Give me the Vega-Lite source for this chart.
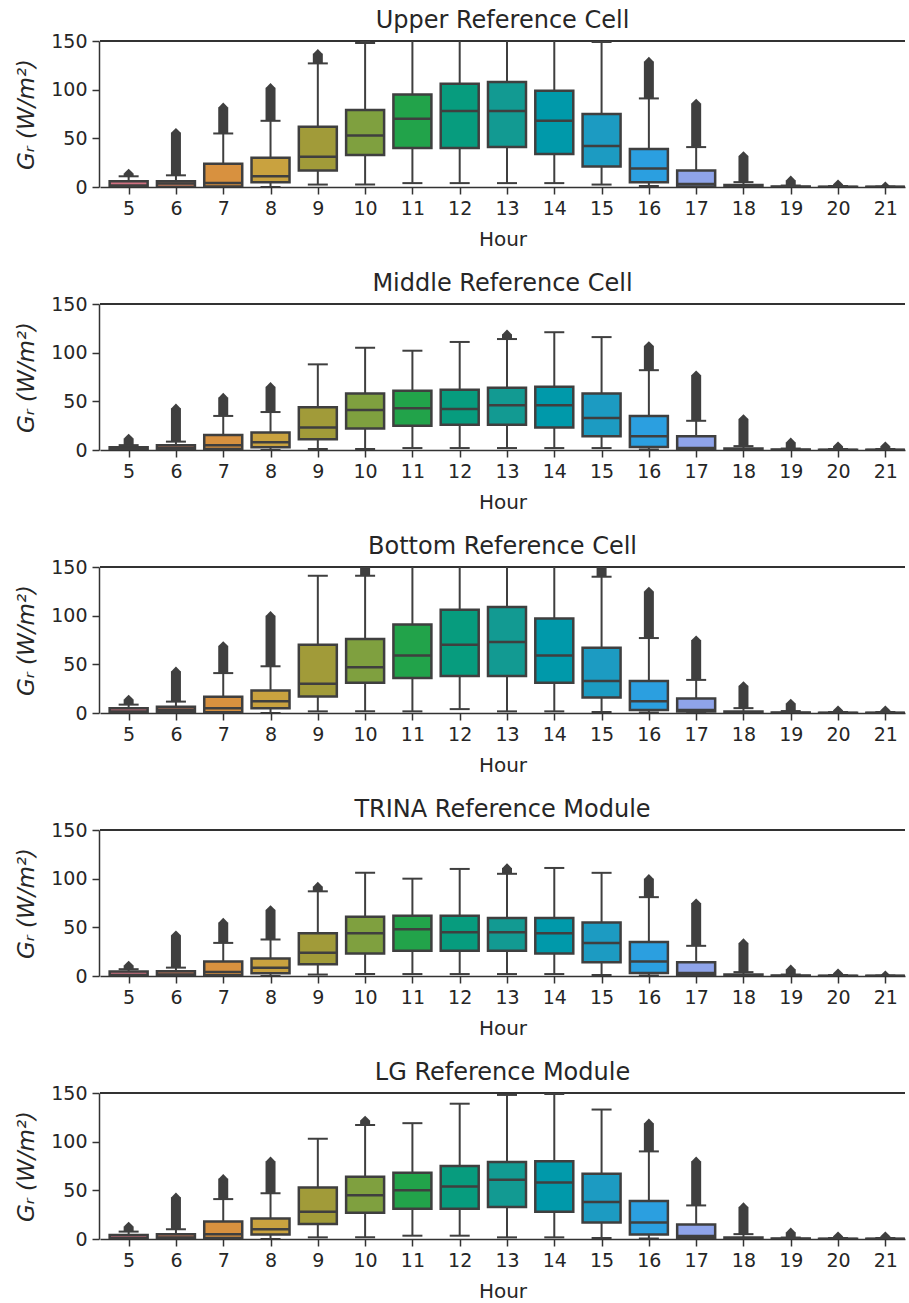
{
  "$schema": "https://vega.github.io/schema/vega-lite/v6.json",
  "padding": {"left": 15, "top": 9, "right": 0, "bottom": 0},
  "data": {"values": [
    {"p":"Upper Reference Cell","h":5,"wlo":0,"q1":0,"med":1.5,"q3":6,"whi":11,"omax":14},
    {"p":"Upper Reference Cell","h":6,"wlo":0,"q1":0,"med":3.5,"q3":6,"whi":12,"omax":56},
    {"p":"Upper Reference Cell","h":7,"wlo":0,"q1":0.5,"med":4,"q3":24,"whi":55,"omax":82},
    {"p":"Upper Reference Cell","h":8,"wlo":0,"q1":5,"med":11,"q3":30,"whi":68,"omax":102},
    {"p":"Upper Reference Cell","h":9,"wlo":2.5,"q1":17,"med":31,"q3":62,"whi":127,"omax":137},
    {"p":"Upper Reference Cell","h":10,"wlo":2.5,"q1":33,"med":53,"q3":79,"whi":148,"omax":170},
    {"p":"Upper Reference Cell","h":11,"wlo":4,"q1":40,"med":70,"q3":95,"whi":170,"omax":null},
    {"p":"Upper Reference Cell","h":12,"wlo":4,"q1":40,"med":78,"q3":106,"whi":170,"omax":null},
    {"p":"Upper Reference Cell","h":13,"wlo":4,"q1":41,"med":78,"q3":108,"whi":170,"omax":null},
    {"p":"Upper Reference Cell","h":14,"wlo":4,"q1":34,"med":68,"q3":99,"whi":170,"omax":null},
    {"p":"Upper Reference Cell","h":15,"wlo":2.5,"q1":21,"med":42,"q3":75,"whi":149,"omax":170},
    {"p":"Upper Reference Cell","h":16,"wlo":1,"q1":5,"med":19,"q3":39,"whi":91,"omax":129},
    {"p":"Upper Reference Cell","h":17,"wlo":0,"q1":0.5,"med":3,"q3":17,"whi":41,"omax":86},
    {"p":"Upper Reference Cell","h":18,"wlo":0,"q1":0,"med":0.5,"q3":2,"whi":5,"omax":32},
    {"p":"Upper Reference Cell","h":19,"wlo":0,"q1":0,"med":0,"q3":0.5,"whi":1.5,"omax":7},
    {"p":"Upper Reference Cell","h":20,"wlo":0,"q1":0,"med":0,"q3":0.3,"whi":1,"omax":3},
    {"p":"Upper Reference Cell","h":21,"wlo":0,"q1":0,"med":0,"q3":0.2,"whi":0.5,"omax":1},
    {"p":"Middle Reference Cell","h":5,"wlo":0,"q1":0,"med":1,"q3":2.7,"whi":5,"omax":12},
    {"p":"Middle Reference Cell","h":6,"wlo":0,"q1":0,"med":2,"q3":4.8,"whi":8.6,"omax":43},
    {"p":"Middle Reference Cell","h":7,"wlo":0,"q1":1,"med":5,"q3":15.5,"whi":35,"omax":54},
    {"p":"Middle Reference Cell","h":8,"wlo":0,"q1":2.8,"med":8,"q3":18,"whi":39,"omax":65},
    {"p":"Middle Reference Cell","h":9,"wlo":1,"q1":11,"med":23,"q3":44,"whi":88,"omax":null},
    {"p":"Middle Reference Cell","h":10,"wlo":1,"q1":22,"med":41,"q3":58,"whi":105,"omax":null},
    {"p":"Middle Reference Cell","h":11,"wlo":2,"q1":25,"med":43,"q3":61,"whi":102,"omax":null},
    {"p":"Middle Reference Cell","h":12,"wlo":2,"q1":26,"med":42,"q3":62,"whi":111,"omax":null},
    {"p":"Middle Reference Cell","h":13,"wlo":2,"q1":26,"med":46,"q3":64,"whi":114,"omax":119},
    {"p":"Middle Reference Cell","h":14,"wlo":2,"q1":23,"med":46,"q3":65,"whi":121,"omax":null},
    {"p":"Middle Reference Cell","h":15,"wlo":2,"q1":14,"med":33,"q3":58,"whi":116,"omax":null},
    {"p":"Middle Reference Cell","h":16,"wlo":0.5,"q1":3,"med":14,"q3":35,"whi":82,"omax":107},
    {"p":"Middle Reference Cell","h":17,"wlo":0,"q1":1,"med":2,"q3":14,"whi":30,"omax":77},
    {"p":"Middle Reference Cell","h":18,"wlo":0,"q1":0,"med":0.5,"q3":1.5,"whi":4,"omax":32},
    {"p":"Middle Reference Cell","h":19,"wlo":0,"q1":0,"med":0,"q3":0.5,"whi":1.5,"omax":8},
    {"p":"Middle Reference Cell","h":20,"wlo":0,"q1":0,"med":0,"q3":0.3,"whi":1,"omax":4},
    {"p":"Middle Reference Cell","h":21,"wlo":0,"q1":0,"med":0,"q3":0.3,"whi":1,"omax":4},
    {"p":"Bottom Reference Cell","h":5,"wlo":0,"q1":0,"med":1.5,"q3":4.8,"whi":8.6,"omax":14},
    {"p":"Bottom Reference Cell","h":6,"wlo":0,"q1":0.7,"med":3.4,"q3":6.5,"whi":11.7,"omax":43},
    {"p":"Bottom Reference Cell","h":7,"wlo":0,"q1":0.7,"med":5,"q3":16.8,"whi":41,"omax":69},
    {"p":"Bottom Reference Cell","h":8,"wlo":0,"q1":4.8,"med":12,"q3":23,"whi":48,"omax":100},
    {"p":"Bottom Reference Cell","h":9,"wlo":1.7,"q1":17,"med":30,"q3":70,"whi":141,"omax":null},
    {"p":"Bottom Reference Cell","h":10,"wlo":1.7,"q1":31,"med":47,"q3":76,"whi":141,"omax":165},
    {"p":"Bottom Reference Cell","h":11,"wlo":1.7,"q1":36,"med":59,"q3":91,"whi":170,"omax":null},
    {"p":"Bottom Reference Cell","h":12,"wlo":4,"q1":38,"med":70,"q3":106,"whi":170,"omax":null},
    {"p":"Bottom Reference Cell","h":13,"wlo":1.7,"q1":38,"med":73,"q3":109,"whi":170,"omax":null},
    {"p":"Bottom Reference Cell","h":14,"wlo":1.7,"q1":31,"med":59,"q3":97,"whi":170,"omax":null},
    {"p":"Bottom Reference Cell","h":15,"wlo":1,"q1":16,"med":33,"q3":67,"whi":140,"omax":165},
    {"p":"Bottom Reference Cell","h":16,"wlo":0.5,"q1":3,"med":12,"q3":33,"whi":77,"omax":125},
    {"p":"Bottom Reference Cell","h":17,"wlo":0,"q1":1.5,"med":3,"q3":15,"whi":34,"omax":75},
    {"p":"Bottom Reference Cell","h":18,"wlo":0,"q1":0,"med":0.5,"q3":1.5,"whi":5,"omax":28},
    {"p":"Bottom Reference Cell","h":19,"wlo":0,"q1":0,"med":0,"q3":0.5,"whi":2,"omax":10},
    {"p":"Bottom Reference Cell","h":20,"wlo":0,"q1":0,"med":0,"q3":0.3,"whi":1,"omax":3},
    {"p":"Bottom Reference Cell","h":21,"wlo":0,"q1":0,"med":0,"q3":0.3,"whi":1,"omax":3},
    {"p":"TRINA Reference Module","h":5,"wlo":0,"q1":0,"med":1,"q3":4.5,"whi":7,"omax":11},
    {"p":"TRINA Reference Module","h":6,"wlo":0,"q1":0,"med":1.5,"q3":5,"whi":8.6,"omax":42},
    {"p":"TRINA Reference Module","h":7,"wlo":0,"q1":0.7,"med":4,"q3":15,"whi":34,"omax":55},
    {"p":"TRINA Reference Module","h":8,"wlo":0,"q1":2.8,"med":8.6,"q3":18,"whi":37.5,"omax":68},
    {"p":"TRINA Reference Module","h":9,"wlo":1.5,"q1":12,"med":24,"q3":44,"whi":87,"omax":92},
    {"p":"TRINA Reference Module","h":10,"wlo":2,"q1":23,"med":44,"q3":61,"whi":106,"omax":null},
    {"p":"TRINA Reference Module","h":11,"wlo":2,"q1":26,"med":48,"q3":62,"whi":100,"omax":null},
    {"p":"TRINA Reference Module","h":12,"wlo":2,"q1":26,"med":45,"q3":62,"whi":110,"omax":null},
    {"p":"TRINA Reference Module","h":13,"wlo":2,"q1":26,"med":45,"q3":59.5,"whi":105,"omax":111},
    {"p":"TRINA Reference Module","h":14,"wlo":2,"q1":23,"med":44,"q3":59.5,"whi":111,"omax":null},
    {"p":"TRINA Reference Module","h":15,"wlo":1,"q1":14,"med":34,"q3":55,"whi":106,"omax":null},
    {"p":"TRINA Reference Module","h":16,"wlo":0.5,"q1":3,"med":15,"q3":35,"whi":81,"omax":100},
    {"p":"TRINA Reference Module","h":17,"wlo":0,"q1":1.4,"med":3,"q3":14,"whi":31,"omax":75},
    {"p":"TRINA Reference Module","h":18,"wlo":0,"q1":0,"med":0.5,"q3":1.5,"whi":4,"omax":34},
    {"p":"TRINA Reference Module","h":19,"wlo":0,"q1":0,"med":0,"q3":0.5,"whi":1.5,"omax":7},
    {"p":"TRINA Reference Module","h":20,"wlo":0,"q1":0,"med":0,"q3":0.3,"whi":1,"omax":3},
    {"p":"TRINA Reference Module","h":21,"wlo":0,"q1":0,"med":0,"q3":0.2,"whi":0.5,"omax":1},
    {"p":"LG Reference Module","h":5,"wlo":0,"q1":0,"med":1,"q3":4,"whi":7.6,"omax":13},
    {"p":"LG Reference Module","h":6,"wlo":0,"q1":0,"med":1.5,"q3":5,"whi":10,"omax":43},
    {"p":"LG Reference Module","h":7,"wlo":0,"q1":1,"med":5,"q3":18,"whi":41,"omax":62},
    {"p":"LG Reference Module","h":8,"wlo":0,"q1":4.5,"med":10,"q3":21,"whi":47,"omax":80},
    {"p":"LG Reference Module","h":9,"wlo":1.7,"q1":15.5,"med":28,"q3":53,"whi":103,"omax":null},
    {"p":"LG Reference Module","h":10,"wlo":1.7,"q1":27,"med":45,"q3":64,"whi":117,"omax":122},
    {"p":"LG Reference Module","h":11,"wlo":3.4,"q1":31,"med":50,"q3":68,"whi":119,"omax":null},
    {"p":"LG Reference Module","h":12,"wlo":3.4,"q1":31,"med":54,"q3":75,"whi":139,"omax":null},
    {"p":"LG Reference Module","h":13,"wlo":1.7,"q1":33,"med":61,"q3":79,"whi":148,"omax":null},
    {"p":"LG Reference Module","h":14,"wlo":1.7,"q1":28,"med":58,"q3":80,"whi":149,"omax":null},
    {"p":"LG Reference Module","h":15,"wlo":1,"q1":17,"med":38,"q3":67,"whi":133,"omax":null},
    {"p":"LG Reference Module","h":16,"wlo":0.5,"q1":4.5,"med":17,"q3":39,"whi":90,"omax":119},
    {"p":"LG Reference Module","h":17,"wlo":0,"q1":1,"med":3,"q3":15,"whi":34.5,"omax":80},
    {"p":"LG Reference Module","h":18,"wlo":0,"q1":0,"med":0.5,"q3":1.5,"whi":5,"omax":33},
    {"p":"LG Reference Module","h":19,"wlo":0,"q1":0,"med":0,"q3":0.5,"whi":1.5,"omax":7},
    {"p":"LG Reference Module","h":20,"wlo":0,"q1":0,"med":0,"q3":0.3,"whi":1,"omax":3},
    {"p":"LG Reference Module","h":21,"wlo":0,"q1":0,"med":0,"q3":0.3,"whi":1,"omax":3}
  ]},
  "facet": {
    "row": {
      "field": "p", "type": "nominal",
      "sort": ["Upper Reference Cell", "Middle Reference Cell", "Bottom Reference Cell", "TRINA Reference Module", "LG Reference Module"],
      "header": {"title": null, "labelOrient": "top", "labelAngle": 0, "labelFontSize": 24, "labelFont": "DejaVu Sans", "labelColor": "#262626", "labelPadding": -17, "labelAnchor": "middle"}
    }
  },
  "spacing": {"row": 23},
  "resolve": {"axis": {"x": "independent"}},
  "spec": {
    "width": 805,
    "height": 146,
    "layer": [
      {"mark": {"type": "rule", "color": "#333333", "strokeWidth": 1.5}, "encoding": {"y": {"datum": 150}}},
      {"mark": {"type": "rule", "color": "#3f3f3f", "strokeWidth": 2, "clip": true},
       "encoding": {
         "x": {"field": "h", "type": "quantitative", "title": "Hour",
               "scale": {"domain": [4.5, 21.31], "nice": false, "zero": false},
               "axis": {"values": [5,6,7,8,9,10,11,12,13,14,15,16,17,18,19,20,21], "format": "d"}},
         "y": {"field": "wlo", "type": "quantitative", "title": "Gᵣ (W/m²)",
               "scale": {"domain": [0, 150], "nice": false},
               "axis": {"values": [0, 50, 100, 150]}},
         "y2": {"field": "whi"}}},
      {"mark": {"type": "rule", "color": "#3f3f3f", "strokeWidth": 10, "clip": true},
       "encoding": {"x": {"field": "h", "type": "quantitative", "title": "Hour"},
                    "y": {"field": "whi", "type": "quantitative", "title": "Gᵣ (W/m²)"}, "y2": {"field": "omax"}}},
      {"mark": {"type": "point", "shape": "diamond", "filled": true, "color": "#3f3f3f", "opacity": 1, "size": 85, "clip": true},
       "encoding": {"x": {"field": "h", "type": "quantitative", "title": "Hour"},
                    "y": {"field": "omax", "type": "quantitative", "title": "Gᵣ (W/m²)"}}},
      {"mark": {"type": "bar", "width": 38, "stroke": "#3f3f3f", "strokeWidth": 2.5, "clip": true, "opacity": 1},
       "encoding": {
         "x": {"field": "h", "type": "quantitative", "title": "Hour"},
         "y": {"field": "q1", "type": "quantitative", "title": "Gᵣ (W/m²)"},
         "y2": {"field": "q3"},
         "fill": {"field": "h", "type": "nominal", "legend": null,
                  "scale": {"domain": [5,6,7,8,9,10,11,12,13,14,15,16,17,18,19,20,21],
                            "range": ["#cf7080","#c4785a","#d8913f","#c9a23f","#a19b39","#7fa03f","#22a34a","#079c7e","#129a92","#0099aa","#1c9bc2","#2b9fe0","#8fa4ea","#b395e6","#d48ce0","#e081c0","#e07e98"]}}}},
      {"mark": {"type": "tick", "orient": "horizontal", "size": 38, "thickness": 2.5, "color": "#3f3f3f", "opacity": 1, "clip": true},
       "encoding": {"x": {"field": "h", "type": "quantitative", "title": "Hour"},
                    "y": {"field": "med", "type": "quantitative", "title": "Gᵣ (W/m²)"}}},
      {"mark": {"type": "tick", "orient": "horizontal", "size": 20, "thickness": 2, "color": "#3f3f3f", "opacity": 1, "clip": true},
       "encoding": {"x": {"field": "h", "type": "quantitative", "title": "Hour"},
                    "y": {"field": "whi", "type": "quantitative", "title": "Gᵣ (W/m²)"}}},
      {"mark": {"type": "tick", "orient": "horizontal", "size": 20, "thickness": 2, "color": "#3f3f3f", "opacity": 1, "clip": true},
       "encoding": {"x": {"field": "h", "type": "quantitative", "title": "Hour"},
                    "y": {"field": "wlo", "type": "quantitative", "title": "Gᵣ (W/m²)"}}}
    ]
  },
  "config": {
    "font": "DejaVu Sans",
    "view": {"stroke": null},
    "header": {"labelFont": "DejaVu Sans", "labelFontSize": 24, "labelColor": "#262626"},
    "axis": {
      "labelFont": "DejaVu Sans", "labelFontSize": 19, "labelColor": "#262626",
      "titleFont": "DejaVu Sans", "titleFontSize": 20, "titleFontWeight": "normal", "titleColor": "#262626",
      "domainColor": "#333333", "domainWidth": 1.5, "tickColor": "#333333", "tickWidth": 1.5, "tickSize": 7,
      "grid": false, "labelPadding": 5
    },
    "axisX": {"labelAngle": 0, "titlePadding": 11},
    "axisY": {"titleFontStyle": "italic", "titlePadding": 12, "titleFontSize": 23}
  }
}
